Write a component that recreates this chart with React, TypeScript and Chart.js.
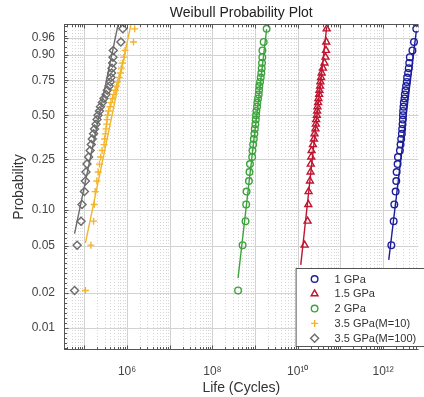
import React, { useEffect, useRef } from 'react';
import { Chart, registerables, Scale } from 'chart.js';

Chart.register(...registerables);

const FONT = "'Liberation Sans', Arial, Helvetica, sans-serif";

const TITLE = 'Weibull Probability Plot';
const X_LABEL = 'Life (Cycles)';
const Y_LABEL = 'Probability';

const X_MIN = 3.33e4;
const X_MAX = 6.78e12;
const Y_MIN = 0.00647;
const Y_MAX = 0.9858;

const X_TICKS = [1e6, 1e8, 1e10, 1e12];
const X_TICK_LABELS = ['10⁶', '10⁸', '10¹⁰', '10¹²'];
const Y_TICKS = [0.01, 0.02, 0.05, 0.1, 0.25, 0.5, 0.75, 0.9, 0.96];

// plotting positions (probability) shared by every series
const PROB = [
  0.021, 0.0509, 0.0808, 0.1108, 0.1407, 0.1707, 0.2006, 0.2305, 0.2605, 0.2904, 0.3204,
  0.3503, 0.3802, 0.4102, 0.4401, 0.4701, 0.5, 0.5299, 0.5599, 0.5898, 0.6198, 0.6497,
  0.6796, 0.7096, 0.7395, 0.7695, 0.7994, 0.8293, 0.8593, 0.8892, 0.9192, 0.9491, 0.979,
];

const LIFE_1GPA = [
  1.355e12, 1.556e12, 1.766e12, 1.828e12, 1.963e12, 2.032e12, 2.07e12, 2.183e12, 2.223e12,
  2.472e12, 2.564e12, 2.649e12, 2.748e12, 2.793e12, 2.851e12, 2.897e12, 2.917e12, 2.944e12,
  2.999e12, 3.055e12, 3.162e12, 3.221e12, 3.342e12, 3.451e12, 3.581e12, 3.648e12, 3.846e12,
  3.981e12, 4.093e12, 4.217e12, 4.853e12, 5.284e12, 5.984e12,
];
const LIFE_15GPA = [
  1.175e10, 1.449e10, 1.698e10, 1.766e10, 1.791e10, 1.932e10, 1.995e10, 2.018e10, 2.07e10,
  2.104e10, 2.265e10, 2.388e10, 2.466e10, 2.6e10, 2.655e10, 2.698e10, 2.799e10, 2.844e10,
  2.891e10, 2.999e10, 3.048e10, 3.162e10, 3.214e10, 3.334e10, 3.388e10, 3.516e10, 3.631e10,
  3.89e10, 4.217e10, 4.467e10, 4.592e10, 4.656e10, 4.753e10,
];
const LIFE_2GPA = [
  3.99e8, 5.093e8, 5.97e8, 6.194e8, 6.31e8, 7.161e8, 7.38e8, 7.586e8, 8.531e8, 8.67e8,
  8.995e8, 9.333e8, 9.638e8, 9.84e8, 1.016e9, 1.038e9, 1.054e9, 1.072e9, 1.112e9, 1.13e9,
  1.172e9, 1.216e9, 1.236e9, 1.256e9, 1.306e9, 1.355e9, 1.4e9, 1.429e9, 1.452e9, 1.476e9,
  1.486e9, 1.589e9, 1.862e9,
];
const LIFE_35_M10 = [
  1.057e5, 1.422e5, 1.641e5, 1.702e5, 1.795e5, 1.959e5, 2.109e5, 2.259e5, 2.421e5, 2.606e5,
  2.897e5, 2.992e5, 3.105e5, 3.221e5, 3.327e5, 3.396e5, 3.508e5, 3.698e5, 3.99e5, 4.207e5,
  4.581e5, 4.932e5, 5.284e5, 5.662e5, 6.095e5, 6.531e5, 6.998e5, 7.379e5, 7.798e5, 8.395e5,
  8.995e5, 1.413e6, 1.507e6,
];
const LIFE_35_M100 = [
  5.89e4, 6.76e4, 8.36e4, 8.81e4, 1.002e5, 1.057e5, 1.091e5, 1.151e5, 1.259e5, 1.365e5,
  1.452e5, 1.531e5, 1.641e5, 1.73e5, 1.875e5, 1.977e5, 2.084e5, 2.259e5, 2.382e5, 2.649e5,
  2.871e5, 3.221e5, 3.451e5, 3.846e5, 4.055e5, 4.207e5, 4.345e5, 4.436e5, 4.581e5, 4.677e5,
  4.753e5, 7.16e5, 7.96e5,
];

// fitted Weibull lines: end points (life, probability)
const FIT_X_1GPA = [1.355e12, 5.984e12];
const FIT_P_1GPA = [0.0382, 0.975];
const FIT_X_15GPA = [1.175e10, 4.753e10];
const FIT_P_15GPA = [0.0347, 0.9816];
const FIT_X_2GPA = [3.99e8, 1.862e9];
const FIT_P_2GPA = [0.0268, 0.9785];
const FIT_X_35_M10 = [1.057e5, 1.507e6];
const FIT_P_35_M10 = [0.0529, 0.99758];
const FIT_X_35_M100 = [5.89e4, 7.96e5];
const FIT_P_35_M100 = [0.0635, 0.99867];

const SERIES_NAMES = ['1 GPa', '1.5 GPa', '2 GPa', '3.5 GPa(M=10)', '3.5 GPa(M=100)'];
const SERIES_COLORS = ['#1d1d9b', '#c01530', '#3da33d', '#f2b52a', '#6c6c6c'];
const SERIES_MARKERS = ['circle', 'triangle', 'cross', 'rectRot'];
const SERIES_STYLE = ['circle', 'triangle', 'circle', 'cross', 'rectRot'];
const MARKER_RADIUS: Record<string, number> = { circle: 3.3, triangle: 4, cross: 3.5, rectRot: 4 };
const SERIES_LIFE = [LIFE_1GPA, LIFE_15GPA, LIFE_2GPA, LIFE_35_M10, LIFE_35_M100];
const SERIES_FIT_X = [FIT_X_1GPA, FIT_X_15GPA, FIT_X_2GPA, FIT_X_35_M10, FIT_X_35_M100];
const SERIES_FIT_P = [FIT_P_1GPA, FIT_P_15GPA, FIT_P_2GPA, FIT_P_35_M10, FIT_P_35_M100];

const wb = (p: number) => Math.log(-Math.log(1 - p));
const wbInv = (w: number) => 1 - Math.exp(-Math.exp(w));

class WeibullScale extends (Scale as any) {
  static id = 'weibull';
  static defaults = {};
  determineDataLimits() {
    this.min = this.options.min;
    this.max = this.options.max;
  }
  buildTicks() {
    return Y_TICKS.map((v) => ({ value: v }));
  }
  getLabelForValue(v: number) {
    return Number(v).toFixed(2);
  }
  configure() {
    super.configure();
    this._wmin = wb(this.min);
    this._wmax = wb(this.max);
  }
  getPixelForValue(v: number) {
    return this.getPixelForDecimal((wb(v) - this._wmin) / (this._wmax - this._wmin));
  }
  getValueForPixel(px: number) {
    return wbInv(this._wmin + this.getDecimalForPixel(px) * (this._wmax - this._wmin));
  }
}
Chart.register(WeibullScale as any);

function drawMarker(ctx: CanvasRenderingContext2D, style: string, x: number, y: number, color: string) {
  const r = MARKER_RADIUS[style];
  ctx.save();
  ctx.strokeStyle = color;
  ctx.lineWidth = 1.4;
  ctx.beginPath();
  if (style === 'circle') {
    ctx.arc(x, y, r, 0, Math.PI * 2);
  } else if (style === 'triangle') {
    ctx.moveTo(x, y - r);
    ctx.lineTo(x + r * 0.866, y + r * 0.5);
    ctx.lineTo(x - r * 0.866, y + r * 0.5);
    ctx.closePath();
  } else if (style === 'cross') {
    ctx.moveTo(x - r, y);
    ctx.lineTo(x + r, y);
    ctx.moveTo(x, y - r);
    ctx.lineTo(x, y + r);
  } else {
    ctx.moveTo(x, y - r);
    ctx.lineTo(x + r, y);
    ctx.lineTo(x, y + r);
    ctx.lineTo(x - r, y);
    ctx.closePath();
  }
  ctx.stroke();
  ctx.restore();
}

const gridPlugin = {
  id: 'probGrid',
  beforeDatasetsDraw(chart: any) {
    const { ctx, chartArea: a, scales } = chart;
    const xs = scales.x;
    const ys = scales.y;
    ctx.save();
    ctx.beginPath();
    ctx.rect(a.left, a.top, a.right - a.left, a.bottom - a.top);
    ctx.clip();
    ctx.lineWidth = 1;
    const e0 = Math.floor(Math.log10(xs.min));
    const e1 = Math.ceil(Math.log10(xs.max));
    for (let e = e0; e <= e1; e++) {
      for (let m = 1; m <= 9; m++) {
        const v = m * Math.pow(10, e);
        if (v < xs.min || v > xs.max) continue;
        const px = Math.round(xs.getPixelForValue(v)) + 0.5;
        ctx.strokeStyle = m === 1 ? '#d2d2d2' : '#d6d6d6';
        ctx.setLineDash(m === 1 ? [] : [1, 2]);
        ctx.beginPath();
        ctx.moveTo(px, a.top);
        ctx.lineTo(px, a.bottom);
        ctx.stroke();
      }
    }
    ctx.setLineDash([]);
    ctx.strokeStyle = '#d2d2d2';
    for (const p of Y_TICKS) {
      const py = Math.round(ys.getPixelForValue(p)) + 0.5;
      ctx.beginPath();
      ctx.moveTo(a.left, py);
      ctx.lineTo(a.right, py);
      ctx.stroke();
    }
    ctx.restore();
  },
  afterDatasetsDraw(chart: any) {
    const { ctx, chartArea: a, scales } = chart;
    const xs = scales.x;
    const ys = scales.y;
    ctx.save();
    ctx.strokeStyle = '#555';
    ctx.lineWidth = 1;
    const L = a.left + 0.5;
    const B = a.bottom - 0.5;
    const T = a.top + 0.5;
    ctx.beginPath();
    ctx.moveTo(L, a.top);
    ctx.lineTo(L, a.bottom);
    ctx.moveTo(a.left, B);
    ctx.lineTo(a.right, B);
    ctx.moveTo(a.left, T);
    ctx.lineTo(a.right, T);
    // inner ticks on x axes
    const e0 = Math.floor(Math.log10(xs.min));
    const e1 = Math.ceil(Math.log10(xs.max));
    for (let e = e0; e <= e1; e++) {
      for (let m = 1; m <= 9; m++) {
        const v = m * Math.pow(10, e);
        if (v < xs.min || v > xs.max) continue;
        const px = Math.round(xs.getPixelForValue(v)) + 0.5;
        const len = m === 1 ? 4 : 2.5;
        ctx.moveTo(px, B);
        ctx.lineTo(px, B - len);
        ctx.moveTo(px, T);
        ctx.lineTo(px, T + len);
      }
    }
    // inner ticks on y axis
    const w0 = Math.ceil(wb(ys.min) * 10);
    const w1 = Math.floor(wb(ys.max) * 10);
    for (let k = w0; k <= w1; k++) {
      const py = Math.round(ys.getPixelForValue(wbInv(k / 10))) + 0.5;
      ctx.moveTo(L, py);
      ctx.lineTo(L + 2.5, py);
    }
    for (const p of Y_TICKS) {
      const py = Math.round(ys.getPixelForValue(p)) + 0.5;
      ctx.moveTo(L, py);
      ctx.lineTo(L + 4, py);
    }
    ctx.stroke();
    ctx.restore();
  },
  afterDraw(chart: any) {
    const { ctx, chartArea: a } = chart;
    const left = a.right - 122.5;
    const top = a.bottom - 81.5;
    const bottom = a.bottom - 3.5;
    ctx.save();
    ctx.fillStyle = '#ffffff';
    ctx.fillRect(left, top, 140, bottom - top);
    ctx.strokeStyle = '#555';
    ctx.lineWidth = 1;
    ctx.strokeRect(left, top, 140, bottom - top);
    ctx.font = `11px ${FONT}`;
    ctx.textBaseline = 'middle';
    ctx.textAlign = 'left';
    ctx.fillStyle = '#333';
    SERIES_NAMES.forEach((name, i) => {
      const y = top + 10.5 + i * 14.8;
      drawMarker(ctx, SERIES_STYLE[i], left + 18.5, y, SERIES_COLORS[i]);
      ctx.fillStyle = '#333';
      ctx.fillText(name, left + 38.5, y + 0.5);
    });
    ctx.restore();
  },
};

export default function App() {
  const ref = useRef<HTMLCanvasElement>(null);
  useEffect(() => {
    const markerSets = SERIES_NAMES.map((name, i) => ({
      label: name,
      data: SERIES_LIFE[i].map((x, j) => ({ x, y: PROB[j] })),
      showLine: false,
      pointStyle: SERIES_STYLE[i],
      pointRadius: MARKER_RADIUS[SERIES_STYLE[i]],
      pointHoverRadius: MARKER_RADIUS[SERIES_STYLE[i]],
      pointBorderWidth: 1.4,
      pointBorderColor: SERIES_COLORS[i],
      pointBackgroundColor: 'rgba(0,0,0,0)',
      borderColor: SERIES_COLORS[i],
      backgroundColor: 'rgba(0,0,0,0)',
      order: 0,
    }));
    const fitSets = SERIES_NAMES.map((name, i) => ({
      label: name + ' fit',
      data: SERIES_FIT_X[i].map((x, j) => ({ x, y: SERIES_FIT_P[i][j] })),
      showLine: true,
      pointRadius: 0,
      borderColor: SERIES_COLORS[i],
      borderWidth: 1.4,
      backgroundColor: 'rgba(0,0,0,0)',
      fill: false,
      clip: 0,
      order: 1,
    }));
    Chart.defaults.font.family = FONT;
    const chart = new Chart(ref.current as HTMLCanvasElement, {
      type: 'scatter',
      data: { datasets: [...markerSets, ...fitSets] as any },
      plugins: [gridPlugin],
      options: {
        animation: false,
        responsive: true,
        maintainAspectRatio: false,
        layout: { padding: 0 },
        plugins: {
          legend: { display: false },
          tooltip: { enabled: false },
          title: {
            display: true,
            text: TITLE,
            fullSize: false,
            color: '#222',
            font: { size: 14, weight: 'normal', family: FONT },
            padding: { top: 5, bottom: 2.2 },
          },
        },
        scales: {
          x: {
            type: 'logarithmic',
            position: 'bottom',
            min: X_MIN,
            max: X_MAX,
            bounds: 'data',
            grid: { display: false, drawTicks: false },
            border: { display: false },
            afterBuildTicks: (s: any) => {
              s.ticks = X_TICKS.map((v) => ({ value: v, major: true }));
            },
            afterFit: (s: any) => {
              s.height = 47;
            },
            ticks: {
              autoSkip: false,
              maxRotation: 0,
              padding: 14,
              color: '#444',
              font: { size: 12, family: FONT },
              callback: (v: any) => {
                const i = X_TICKS.indexOf(Number(v));
                return i >= 0 ? X_TICK_LABELS[i] : '';
              },
            },
            title: {
              display: true,
              text: X_LABEL,
              color: '#333',
              font: { size: 14, family: FONT },
              padding: { top: 0, bottom: 0 },
            },
          } as any,
          y: {
            type: 'weibull',
            position: 'left',
            min: Y_MIN,
            max: Y_MAX,
            grid: { display: false, drawTicks: false },
            border: { display: false },
            afterFit: (s: any) => {
              s.width = 64;
            },
            ticks: {
              autoSkip: false,
              padding: 9,
              color: '#444',
              font: { size: 12, family: FONT },
              callback: (v: any) => Number(v).toFixed(2),
            },
            title: {
              display: true,
              text: Y_LABEL,
              color: '#333',
              font: { size: 14, family: FONT },
              padding: { top: 11, bottom: 0 },
            },
          } as any,
        },
      } as any,
    });
    return () => chart.destroy();
  }, []);
  return (
    <div style={{ position: 'fixed', left: 0, top: 0, width: 424, height: 397, background: '#fff' }}>
      <canvas ref={ref} />
    </div>
  );
}
